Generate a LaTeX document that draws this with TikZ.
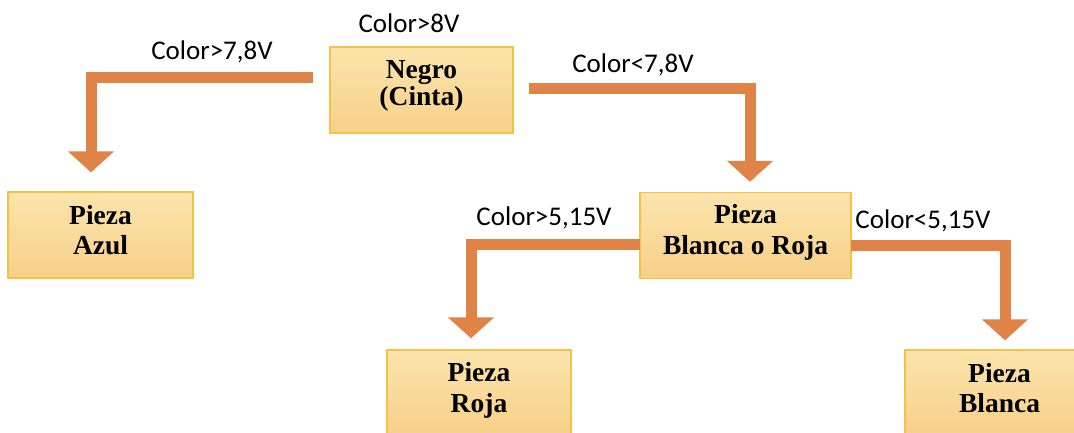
\documentclass[tikz,border=0pt]{standalone}
\usepackage{fontspec}
\setmainfont{Liberation Serif}
\newfontfamily\labelfont{Carlito}
\usetikzlibrary{arrows.meta}

\definecolor{boxtop}{RGB}{251,228,172}
\definecolor{boxbottom}{RGB}{247,208,137}
\definecolor{boxline}{RGB}{246,193,70}
\definecolor{flowcol}{RGB}{224,131,70}

\tikzset{
  box/.style={rectangle, draw=boxline, line width=1.3pt,
    top color=boxtop, bottom color=boxbottom,
    minimum height=86pt, inner sep=0pt},
  boxtext/.style={font=\fontsize{27.5}{30.5}\selectfont\bfseries, align=center,
    inner sep=0pt},
  cond/.style={font=\labelfont\fontsize{27}{32}\selectfont, anchor=base,
    inner sep=0pt},
  flow/.style={draw=flowcol, line width=11pt, line join=miter,
    -{Triangle[width=45pt,length=21pt]}},
}

\begin{document}
\begin{tikzpicture}[x=1pt, y=-1pt]
  \useasboundingbox (0,0) rectangle (1074,432);

  % decision boxes
  \node[box, minimum width=183pt] (negro) at (421.5,90) {};
  \node[box, minimum width=185pt] (azul) at (100.5,235) {};
  \node[box, minimum width=211pt] (blancaroja) at (745.5,235.5) {};
  \node[box, minimum width=184pt] (roja) at (479,393) {};
  \node[box, minimum width=185pt] (blanca) at (997.5,393) {};

  % box captions
  \node[boxtext, font=\fontsize{27.5}{27}\selectfont\bfseries] (negrotxt)
    at ([yshift=4pt]negro.center) {Negro\\(Cinta)};
  \node[boxtext] (azultxt) at ([yshift=5pt]azul.center) {Pieza\\Azul};
  \node[boxtext] (blancarojatxt) at ([yshift=3pt]blancaroja.center) {Pieza\\Blanca o Roja};
  \node[boxtext] (rojatxt) at ([yshift=2.5pt]roja.center) {Pieza\\Roja};
  \node[boxtext] (blancatxt) at ([xshift=2pt,yshift=5pt]blanca.center) {Pieza\\Blanca};

  % flow arrows
  \draw[flow] ([xshift=-16pt,yshift=13pt]negro.west) -| ([xshift=-9.5pt,yshift=19pt]azul.north);
  \draw[flow] ([xshift=15pt,yshift=2pt]negro.east) -| ([xshift=4.5pt,yshift=10pt]blancaroja.north);
  \draw[flow] ([xshift=1pt,yshift=-8.5pt]blancaroja.west) -| ([xshift=-8pt,yshift=11pt]roja.north);
  \draw[flow] ([xshift=-1pt,yshift=-10pt]blancaroja.east) -| ([xshift=7.5pt,yshift=9pt]blanca.north);

  % conditions
  \node[cond] (c8) at (409,32) {Color>8V};
  \node[cond] (c78a) at (212,59) {Color>7,8V};
  \node[cond] (c78b) at (633,72) {Color<7,8V};
  \node[cond] (c515a) at (544,225) {Color>5,15V};
  \node[cond] (c515b) at (923,228) {Color<5,15V};
\end{tikzpicture}
\end{document}
